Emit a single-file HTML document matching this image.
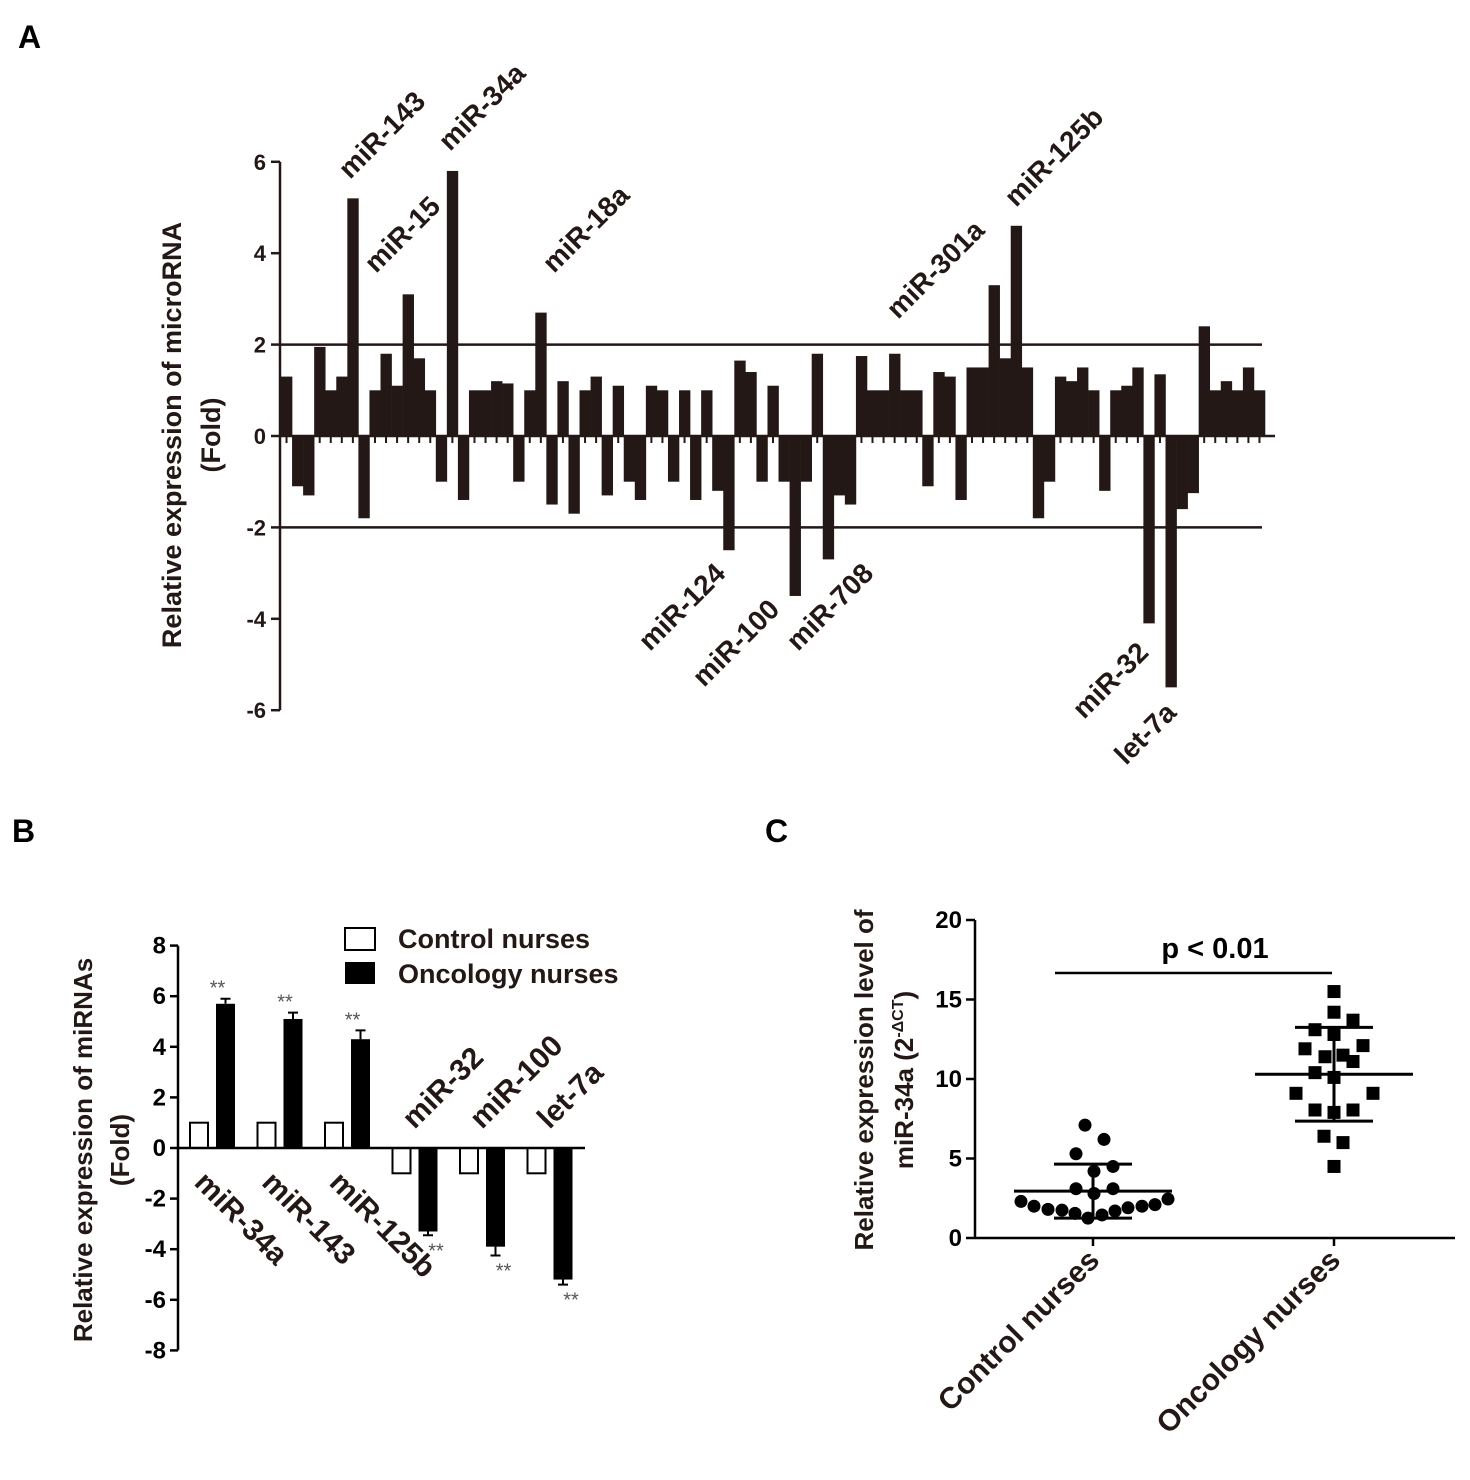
<!DOCTYPE html>
<html><head><meta charset="utf-8"><style>
body{margin:0;background:#fff}
svg{display:block;font-family:"Liberation Sans",Arial,sans-serif}
</style></head><body>
<svg id="fig" width="1470" height="1480" viewBox="0 0 1470 1480" xmlns="http://www.w3.org/2000/svg">
<g id="pA"></g>
<g id="pB"></g>
<g id="pC"></g>
</svg>
<script>
// Panel A data
const aValues=[1.3,-1.1,-1.3,1.95,1.0,1.3,5.2,-1.8,1.0,1.8,1.1,3.1,1.7,1.0,-1.0,5.8,-1.4,1.0,1.0,1.2,1.15,-1.0,1.0,2.7,-1.5,1.2,-1.7,1.0,1.3,-1.3,
1.1,-1.0,-1.4,1.1,1.0,-1.0,1.0,-1.4,1.0,-1.2,-2.5,1.65,1.4,-1.0,1.1,-1.0,-3.5,-1.0,1.8,-2.7,-1.3,-1.5,1.75,1.0,1.0,1.8,1.0,1.0,-1.1,1.4,
1.3,-1.4,1.5,1.5,3.3,1.7,4.6,1.5,-1.8,-1.0,1.3,1.2,1.5,1.0,-1.2,1.0,1.1,1.5,-4.1,1.35,-5.5,-1.6,-1.25,2.4,1.0,1.2,1.0,1.5,1.0];
const aTicks=[6,4,2,0,-2,-4,-6];
const aThresholds=[2,-2];
const aLabels=["miR-143","miR-34a","miR-15","miR-18a","miR-301a","miR-125b","miR-124","miR-100","miR-708","miR-32","let-7a"];
// Panel B data
const bCategories=["miR-34a","miR-143","miR-125b","miR-32","miR-100","let-7a"];
const bControl=[1,1,1,-1,-1,-1];
const bOncology=[5.7,5.1,4.3,-3.3,-3.9,-5.2];
const bOncErr=[0.2,0.25,0.35,0.15,0.35,0.2];
const bTicks=[8,6,4,2,0,-2,-4,-6,-8];
// Panel C data
const cGroups=["Control nurses","Oncology nurses"];
const cControl=[7.1,6.2,5.3,4.5,4.2,3.1,3.1,2.8,2.3,2.45,2.0,2.1,1.8,2.0,1.75,1.9,1.55,1.7,1.45,1.25];
const cOncology=[15.5,14.2,13.7,13.1,12.8,11.9,12.1,11.4,11.5,11.1,10.4,10.1,9.1,9.1,8.05,8.05,7.9,6.4,6.0,4.5];
const cMean=[2.95,10.3];
const cSD=[1.7,2.95];
const cTicks=[0,5,10,15,20];

const NS="http://www.w3.org/2000/svg";
function mk(parent,tag,attrs,text){const e=document.createElementNS(NS,tag);for(const k in attrs)e.setAttribute(k,attrs[k]);if(text!==undefined)e.textContent=text;parent.appendChild(e);return e;}

// ---------- Panel A ----------
const A=document.getElementById('pA');
const yA=v=>436-v*45.7;
const ax0=281, ax1=1265, bw=(ax1-ax0)/aValues.length;
const xA=i=>ax0+i*bw;
let t=mk(A,'text',{x:18,y:48,'font-size':32,'font-weight':'bold'},'A');


aValues.forEach((v,i)=>{
  const r=mk(A,'rect',{x:xA(i),y:Math.min(yA(v),yA(0)),width:bw+0.3,height:Math.abs(yA(v)-yA(0)),fill:'#231815'});
  
  
  const tk=mk(A,'line',{x1:xA(i)+bw/2,x2:xA(i)+bw/2,y1:yA(0),y2:yA(0)+7,stroke:'#231815','stroke-width':2});
  
  
});
let l=mk(A,'line',{x1:280,x2:280,y1:yA(6),y2:yA(-6),stroke:'#231815','stroke-width':2.5});


l=mk(A,'line',{x1:280,x2:1275,y1:yA(0),y2:yA(0),stroke:'#231815','stroke-width':2.5});


aThresholds.forEach(v=>{
  const h=mk(A,'line',{x1:280,x2:1262,y1:yA(v),y2:yA(v),stroke:'#231815','stroke-width':2.5});
  
  
});
aTicks.forEach(v=>{
  const tk=mk(A,'line',{x1:271,x2:280,y1:yA(v),y2:yA(v),stroke:'#231815','stroke-width':2.5});
  
  
  const tl=mk(A,'text',{x:266,y:yA(v)+8,'font-size':22,'font-weight':'bold','text-anchor':'end',fill:'#231815'},String(v));
  
  
});
t=mk(A,'text',{transform:'translate(181,435) rotate(-90)','font-size':27,'font-weight':'bold','text-anchor':'middle',fill:'#231815'},'Relative expression of microRNA');


t=mk(A,'text',{transform:'translate(220,435) rotate(-90)','font-size':27,'font-weight':'bold','text-anchor':'middle',fill:'#231815'},'(Fold)');


const aLabelPos=[[350,180],[450,152],[376,274],[554,274],[898,320],[1016,208],[650,652],[704,688],[798,652],[1084,720],[1126,766]];
aLabels.forEach((s,i)=>{
  const p=aLabelPos[i];
  const e=mk(A,'text',{transform:`translate(${p[0]},${p[1]}) rotate(-45)`,'font-size':28,'font-weight':'bold',fill:'#231815'},s);
  
  
});

// ---------- Panel B ----------
const B=document.getElementById('pB');
const yB=v=>1148-v*25.3;
const xB=i=>190+i*67.5;
t=mk(B,'text',{x:12,y:842,'font-size':32,'font-weight':'bold'},'B');


bCategories.forEach((c,i)=>{
  const r1=mk(B,'rect',{x:xB(i),y:Math.min(yB(bControl[i]),yB(0)),width:18,height:Math.abs(yB(bControl[i])-yB(0)),fill:'#fff',stroke:'#000','stroke-width':2});
  
  
  const v=bOncology[i];
  const r2=mk(B,'rect',{x:xB(i)+26,y:Math.min(yB(v),yB(0)),width:19,height:Math.abs(yB(v)-yB(0)),fill:'#000'});
  
  
  const s=v>0?1:-1, cx=xB(i)+35.5, ye=yB(v+s*bOncErr[i]);
  const eb=mk(B,'path',{d:`M${cx},${yB(v)}V${ye}M${cx-5},${ye}H${cx+5}`,stroke:'#000','stroke-width':2,fill:'none'});
  
  
  const st=mk(B,'text',{x:v>0?cx-8:cx+8,y:v>0?ye-4:ye+22,'font-size':20,fill:'#555','text-anchor':'middle'},'**');
  
  
  let lab;
  if(v>0){lab=mk(B,'text',{transform:`translate(${xB(i)+3},${1184}) rotate(45)`,'font-size':30,'font-weight':'bold',fill:'#231815'},c);}
  else{lab=mk(B,'text',{transform:`translate(${xB(i)+22},${1130}) rotate(-45)`,'font-size':30,'font-weight':'bold',fill:'#231815'},c);}
  
  
});
l=mk(B,'line',{x1:178,x2:178,y1:yB(8),y2:yB(-8),stroke:'#000','stroke-width':2.5});


l=mk(B,'line',{x1:178,x2:585,y1:yB(0),y2:yB(0),stroke:'#000','stroke-width':2.5});


bTicks.forEach(v=>{
  const tk=mk(B,'line',{x1:170,x2:178,y1:yB(v),y2:yB(v),stroke:'#000','stroke-width':2.5});
  
  
  const tl=mk(B,'text',{x:166,y:yB(v)+8,'font-size':24,'font-weight':'bold','text-anchor':'end'},String(v));
  
  
});
t=mk(B,'text',{transform:'translate(92,1150) rotate(-90)','font-size':26,'font-weight':'bold','text-anchor':'middle',fill:'#231815'},'Relative expression of miRNAs');


t=mk(B,'text',{transform:'translate(129,1150) rotate(-90)','font-size':26,'font-weight':'bold','text-anchor':'middle',fill:'#231815'},'(Fold)');


let lg=mk(B,'rect',{x:345,y:928,width:30,height:22,fill:'#fff',stroke:'#000','stroke-width':2});


lg=mk(B,'rect',{x:345,y:962,width:30,height:22,fill:'#000'});


lg=mk(B,'text',{x:398,y:948,'font-size':27,'font-weight':'bold',fill:'#231815'},'Control nurses');


lg=mk(B,'text',{x:398,y:983,'font-size':27,'font-weight':'bold',fill:'#231815'},'Oncology nurses');



// ---------- Panel C ----------
const C=document.getElementById('pC');
const yC=v=>1238-v*15.9;
const xCenters=[1093,1334];
const jitterControl=[-8,11,-17,20,1,-17,20,1,-72,75,-59,62,-45,49,-31,35,-18,22,9,-5];
const jitterOnc=[0,0,19,-19,0,-29,29,-9,9,19,-19,0,-38,39,-19,19,0,-10,9,0];
t=mk(C,'text',{x:765,y:842,'font-size':32,'font-weight':'bold'},'C');


l=mk(C,'line',{x1:975,x2:975,y1:yC(20),y2:yC(0),stroke:'#000','stroke-width':2.5});


l=mk(C,'line',{x1:975,x2:1455,y1:yC(0),y2:yC(0),stroke:'#000','stroke-width':2.5});


cTicks.forEach(v=>{
  const tk=mk(C,'line',{x1:966,x2:975,y1:yC(v),y2:yC(v),stroke:'#000','stroke-width':2.5});
  
  
  const tl=mk(C,'text',{x:962,y:yC(v)+8,'font-size':24,'font-weight':'bold','text-anchor':'end'},String(v));
  
  
});
cGroups.forEach((g,i)=>{
  const tk=mk(C,'line',{x1:xCenters[i],x2:xCenters[i],y1:yC(0),y2:yC(0)+8,stroke:'#000','stroke-width':2.5});
  
  
  const lab=mk(C,'text',{transform:`translate(${xCenters[i]+8},${1262}) rotate(-45)`,'font-size':30,'font-weight':'bold','text-anchor':'end',fill:'#231815'},g);
  
  
});
cControl.forEach((v,i)=>{
  const c=mk(C,'circle',{cx:xCenters[0]+jitterControl[i],cy:yC(v),r:6.5,fill:'#000'});
  
  
});
cOncology.forEach((v,i)=>{
  const c=mk(C,'rect',{x:xCenters[1]+jitterOnc[i]-6.5,y:yC(v)-6.5,width:13,height:13,fill:'#000'});
  
  
});
cGroups.forEach((g,i)=>{
  const cx=xCenters[i], m=cMean[i], s=cSD[i];
  const d=`M${cx-79},${yC(m)}H${cx+79}M${cx-39},${yC(m+s)}H${cx+39}M${cx-39},${yC(m-s)}H${cx+39}M${cx},${yC(m+s)}V${yC(m-s)}`;
  const p=mk(C,'path',{d:d,stroke:'#000','stroke-width':3,fill:'none'});
  
  
});
l=mk(C,'line',{x1:1055,x2:1332,y1:973,y2:973,stroke:'#000','stroke-width':2.5});


t=mk(C,'text',{x:1215,y:958,'font-size':29,'font-weight':'bold','text-anchor':'middle'},'p < 0.01');


t=mk(C,'text',{transform:'translate(873,1080) rotate(-90)','font-size':26,'font-weight':'bold','text-anchor':'middle',fill:'#231815'},'Relative expression level of');


t=mk(C,'text',{transform:'translate(913,1080) rotate(-90)','font-size':26,'font-weight':'bold','text-anchor':'middle',fill:'#231815'});


t.innerHTML='miR-34a (2<tspan dy="-10" font-size="16">-ΔCT</tspan><tspan dy="10">)</tspan>';
</script>
</body></html>
